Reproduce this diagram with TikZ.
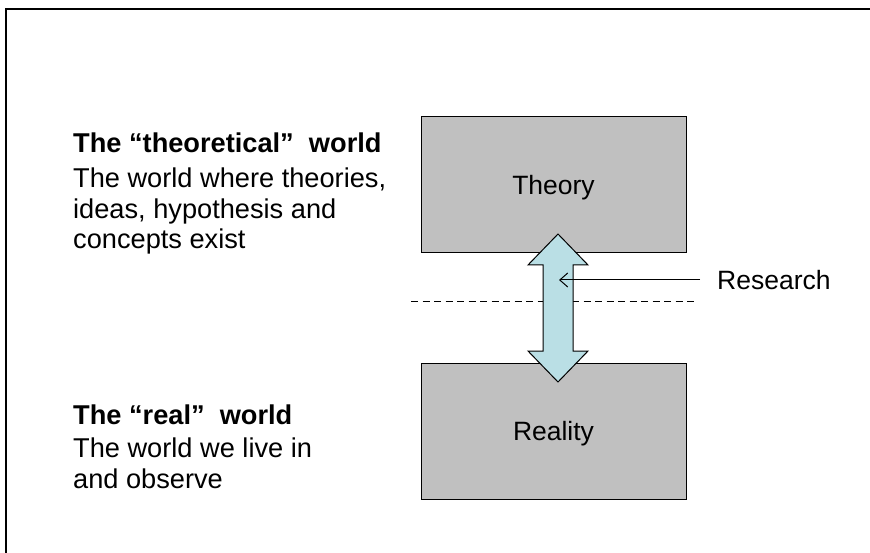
\documentclass[tikz,border=0pt]{standalone}
\usepackage{fontspec}
\setmainfont{Liberation Sans}
\usetikzlibrary{arrows.meta}
\definecolor{boxgray}{RGB}{192,192,192}
\definecolor{arrowblue}{RGB}{186,223,229}
\begin{document}
\begin{tikzpicture}[x=1pt,y=-1pt,
  box/.style={draw=black, line width=1pt, fill=boxgray, minimum width=265pt, minimum height=136pt,
    inner sep=0pt, text height=19pt, text depth=0pt, font=\fontsize{26.5}{30}\selectfont},
  txt/.style={anchor=base west, inner sep=0pt, font=\fontsize{27.2}{30}\selectfont},
  sep/.style={line width=1pt, dash pattern=on 7pt off 4.5pt},
  dblarrow/.style={draw=black, line width=1pt, fill=arrowblue},
  link/.style={line width=1pt, -{Straight Barb[length=8pt,width=14pt,line width=1pt]}}
]
\useasboundingbox (0,0) rectangle (870,553);
\fill[white] (0,0) rectangle (870,553);
\draw[line width=1.5pt] (870,9) -- (6,9) -- (6,553);

% boxes
\node[box] (theory) at (553.5,185) {Theory};
\node[box] (reality) at (553.5,431) {Reality};

% dashed separator
\coordinate (dashL) at (411,302);
\coordinate (dashR) at (697,302);
\draw[sep] (dashL) -- (dashR);

% double arrow
\coordinate (ac) at (558,308);
\begin{scope}[shift={(ac)}]
\draw[dblarrow] (0,-74) -- (30,-43) -- (15,-43) -- (15,43) -- (30,43) -- (0,74)
  -- (-30,43) -- (-15,43) -- (-15,-43) -- (-30,-43) -- cycle;
\coordinate (tip) at (1,-28);
\end{scope}

% research label
\node[anchor=west, inner xsep=17pt, inner ysep=0pt, text height=19pt, text depth=0pt,
  font=\fontsize{26.5}{30}\selectfont] (res) at (700,280) {Research};
\draw[link] (res.west) -- (tip);

% left texts
\node[txt] (t1) at (73,153) {\textbf{The “theoretical”\ \ world}};
\node[txt] (t2) at (73,188) {The world where theories,};
\node[txt] (t3) at (73,218.5) {ideas, hypothesis\ and};
\node[txt] (t4) at (73,248.5) {concepts\ exist};
\node[txt] (r1) at (73,424) {\textbf{The “real”\ \ world}};
\node[txt] (r2) at (73,457) {The world we live in};
\node[txt] (r3) at (73,488) {and observe};
\end{tikzpicture}
\end{document}
